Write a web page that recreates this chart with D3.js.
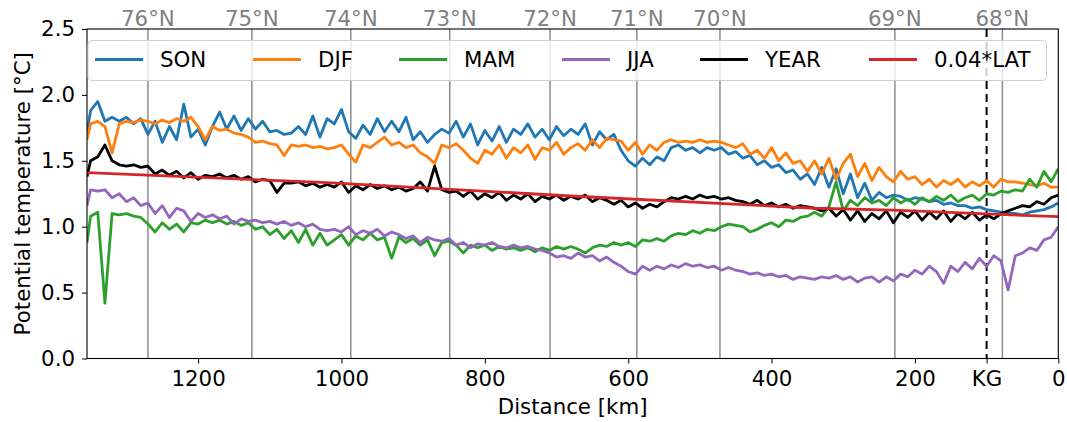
<!DOCTYPE html>
<html lang="en">
  <head>
    <meta charset="utf-8" />
    <title>Potential temperature along section</title>
    <style>
      html,
      body {
        margin: 0;
        padding: 0;
        background: #fff;
      }

      svg {
        display: block;
        font-family: 'DejaVu Sans', sans-serif;
      }
    </style>
    <script src="https://d3js.org/d3.v7.min.js"></script>
  </head>
  <body>
    <svg width="1067" height="422"></svg>

    <script>
      // distance along the section [km]
      var dist = [1355,
        1350, 1340, 1330, 1320, 1310, 1300, 1290, 1280, 1270, 1260,
        1250, 1240, 1230, 1220, 1210, 1200, 1190, 1180, 1170, 1160,
        1150, 1140, 1130, 1120, 1110, 1100, 1090, 1080, 1070, 1060,
        1050, 1040, 1030, 1020, 1010, 1000, 990, 980, 970, 960,
        950, 940, 930, 920, 910, 900, 890, 880, 870, 860,
        850, 840, 830, 820, 810, 800, 790, 780, 770, 760,
        750, 740, 730, 720, 710, 700, 690, 680, 670, 660,
        650, 640, 630, 620, 610, 600, 590, 580, 570, 560,
        550, 540, 530, 520, 510, 500, 490, 480, 470, 460,
        450, 440, 430, 420, 410, 400, 390, 380, 370, 360,
        350, 340, 330, 320, 310, 300, 290, 280, 270, 260,
        250, 240, 230, 220, 210, 200, 190, 180, 170, 160,
        150, 140, 130, 120, 110, 100, 90, 80, 70, 60,
        50, 40, 30, 20, 10, 0];

      var son = [1.72,
        1.88, 1.95, 1.80, 1.83, 1.80, 1.83, 1.78, 1.82, 1.70, 1.80,
        1.64, 1.76, 1.66, 1.93, 1.68, 1.74, 1.62, 1.76, 1.87, 1.74,
        1.84, 1.73, 1.82, 1.74, 1.80, 1.72, 1.73, 1.70, 1.71, 1.76,
        1.70, 1.84, 1.68, 1.82, 1.78, 1.89, 1.72, 1.67, 1.77, 1.70,
        1.82, 1.72, 1.80, 1.72, 1.83, 1.66, 1.72, 1.64, 1.70, 1.74,
        1.71, 1.80, 1.68, 1.78, 1.62, 1.73, 1.65, 1.76, 1.64, 1.74,
        1.70, 1.78, 1.68, 1.74, 1.66, 1.76, 1.69, 1.74, 1.70, 1.78,
        1.62, 1.72, 1.66, 1.70, 1.58, 1.50, 1.46, 1.52, 1.47, 1.53,
        1.50, 1.60, 1.62, 1.58, 1.60, 1.56, 1.60, 1.58, 1.60, 1.55,
        1.57, 1.52, 1.54, 1.47, 1.50, 1.45, 1.47, 1.41, 1.43, 1.36,
        1.40, 1.32, 1.45, 1.30, 1.44, 1.25, 1.40, 1.22, 1.33, 1.20,
        1.26, 1.22, 1.24, 1.23, 1.20, 1.22, 1.21, 1.19, 1.20, 1.17,
        1.18, 1.16, 1.16, 1.14, 1.15, 1.13, 1.12, 1.11, 1.10, 1.10,
        1.09, 1.11, 1.12, 1.13, 1.15, 1.18];

      var djf = [1.66,
        1.78, 1.80, 1.76, 1.56, 1.78, 1.80, 1.79, 1.81, 1.80, 1.78,
        1.81, 1.79, 1.82, 1.80, 1.83, 1.76, 1.66, 1.76, 1.73, 1.74,
        1.71, 1.70, 1.68, 1.64, 1.65, 1.63, 1.62, 1.54, 1.62, 1.61,
        1.62, 1.60, 1.61, 1.59, 1.60, 1.62, 1.55, 1.49, 1.62, 1.60,
        1.64, 1.68, 1.62, 1.64, 1.60, 1.62, 1.56, 1.53, 1.48, 1.62,
        1.60, 1.63, 1.58, 1.52, 1.48, 1.58, 1.55, 1.62, 1.52, 1.60,
        1.56, 1.62, 1.51, 1.60, 1.58, 1.64, 1.55, 1.60, 1.63, 1.58,
        1.66, 1.60, 1.67, 1.66, 1.65, 1.58, 1.64, 1.55, 1.62, 1.58,
        1.64, 1.66, 1.64, 1.65, 1.64, 1.66, 1.64, 1.65, 1.64, 1.62,
        1.60, 1.63, 1.55, 1.58, 1.52, 1.60, 1.50, 1.56, 1.48, 1.50,
        1.42, 1.50, 1.40, 1.52, 1.36, 1.48, 1.55, 1.38, 1.48, 1.35,
        1.45, 1.38, 1.34, 1.42, 1.36, 1.38, 1.32, 1.36, 1.30, 1.35,
        1.32, 1.36, 1.30, 1.34, 1.31, 1.35, 1.30, 1.36, 1.34, 1.34,
        1.33, 1.32, 1.31, 1.33, 1.30, 1.30];

      var mam = [0.88,
        1.08, 1.11, 0.42, 1.10, 1.09, 1.10, 1.08, 1.07, 1.02, 0.96,
        1.03, 0.98, 1.02, 0.96, 1.03, 1.02, 1.05, 1.03, 1.05, 1.02,
        1.04, 1.01, 1.03, 0.98, 1.00, 0.94, 0.98, 0.91, 0.97, 0.88,
        0.98, 0.86, 0.95, 0.86, 0.90, 0.94, 0.86, 0.93, 0.90, 0.95,
        0.90, 0.92, 0.76, 0.92, 0.88, 0.91, 0.86, 0.90, 0.78, 0.88,
        0.89, 0.86, 0.80, 0.86, 0.84, 0.86, 0.82, 0.85, 0.83, 0.84,
        0.82, 0.84, 0.81, 0.84, 0.82, 0.85, 0.83, 0.85, 0.83, 0.80,
        0.84, 0.86, 0.85, 0.88, 0.86, 0.88, 0.85, 0.90, 0.89, 0.91,
        0.89, 0.93, 0.95, 0.94, 0.97, 0.95, 0.98, 0.97, 1.00, 1.02,
        1.01, 1.00, 0.96, 0.98, 1.01, 1.03, 1.00, 1.05, 1.04, 1.07,
        1.08, 1.11, 1.08, 1.15, 1.34, 1.12, 1.20, 1.16, 1.22, 1.18,
        1.20, 1.16, 1.22, 1.18, 1.21, 1.17, 1.22, 1.19, 1.23, 1.20,
        1.24, 1.19, 1.22, 1.24, 1.20, 1.25, 1.24, 1.27, 1.26, 1.28,
        1.27, 1.36, 1.30, 1.42, 1.34, 1.44];

      var jja = [1.16,
        1.28, 1.27, 1.28, 1.22, 1.25, 1.19, 1.22, 1.16, 1.18, 1.10,
        1.16, 1.07, 1.14, 1.12, 1.04, 1.10, 1.07, 1.09, 1.06, 1.08,
        1.02, 1.06, 1.04, 1.05, 1.03, 1.04, 1.02, 1.04, 1.01, 1.03,
        1.00, 1.02, 0.98, 0.97, 0.98, 0.96, 1.00, 0.94, 0.97, 0.95,
        0.98, 0.93, 0.96, 0.94, 0.91, 0.93, 0.88, 0.92, 0.90, 0.89,
        0.91, 0.86, 0.88, 0.84, 0.87, 0.86, 0.88, 0.85, 0.84, 0.86,
        0.84, 0.85, 0.83, 0.82, 0.80, 0.77, 0.78, 0.76, 0.80, 0.77,
        0.78, 0.74, 0.77, 0.73, 0.70, 0.66, 0.64, 0.70, 0.67, 0.70,
        0.68, 0.71, 0.69, 0.72, 0.70, 0.71, 0.69, 0.70, 0.67, 0.69,
        0.67, 0.66, 0.64, 0.65, 0.63, 0.64, 0.62, 0.63, 0.60, 0.62,
        0.61, 0.60, 0.62, 0.61, 0.63, 0.60, 0.62, 0.58, 0.61, 0.62,
        0.58, 0.62, 0.59, 0.64, 0.62, 0.67, 0.64, 0.70, 0.66, 0.57,
        0.70, 0.66, 0.73, 0.68, 0.76, 0.70, 0.78, 0.74, 0.52, 0.78,
        0.80, 0.84, 0.82, 0.90, 0.92, 1.00];

      var year = [1.38,
        1.50, 1.53, 1.62, 1.50, 1.47, 1.46, 1.47, 1.45, 1.46, 1.40,
        1.43, 1.39, 1.42, 1.37, 1.41, 1.36, 1.39, 1.38, 1.40, 1.37,
        1.39, 1.36, 1.38, 1.34, 1.36, 1.35, 1.26, 1.33, 1.33, 1.34,
        1.31, 1.33, 1.30, 1.32, 1.30, 1.34, 1.26, 1.31, 1.28, 1.32,
        1.29, 1.31, 1.28, 1.30, 1.27, 1.29, 1.34, 1.27, 1.46, 1.28,
        1.26, 1.27, 1.23, 1.27, 1.21, 1.25, 1.22, 1.26, 1.20, 1.24,
        1.21, 1.25, 1.19, 1.23, 1.21, 1.24, 1.20, 1.23, 1.21, 1.24,
        1.19, 1.22, 1.20, 1.17, 1.20, 1.15, 1.18, 1.14, 1.17, 1.15,
        1.19, 1.22, 1.21, 1.23, 1.21, 1.24, 1.22, 1.23, 1.21, 1.22,
        1.20, 1.19, 1.17, 1.20, 1.16, 1.18, 1.15, 1.17, 1.14, 1.16,
        1.15, 1.14, 1.12, 1.14, 1.08, 1.13, 1.05, 1.12, 1.04, 1.10,
        1.06, 1.12, 1.03, 1.11, 1.07, 1.12, 1.05, 1.11, 1.06, 1.12,
        1.04, 1.10, 1.06, 1.11, 1.05, 1.09, 1.06, 1.10, 1.12, 1.14,
        1.16, 1.15, 1.19, 1.17, 1.22, 1.24];

      // the 0.04*LAT reference line
      var latDist = [1355, 1020, 680, 340, 230, 0];
      var latVals = [1.41, 1.335, 1.233, 1.14, 1.125, 1.076];

      // latitude marks along the section
      var latLabels = ['76°N', '75°N', '74°N', '73°N', '72°N', '71°N', '70°N', '69°N', '68°N'];
      var latKm = [1270, 1125, 987, 849, 709, 588, 472, 228, 78];

      var kgKm = 100;
      var xTicks = [1200, 1000, 800, 600, 400, 200, 100, 0];
      var yTicks = [0, 0.5, 1.0, 1.5, 2.0, 2.5];

      var names = ['SON', 'DJF', 'MAM', 'JJA', 'YEAR', '0.04*LAT'];
      var colors = ['#1f77b4', '#ff7f0e', '#2ca02c', '#9467bd', '#000000', '#d62728'];

      var series = [son, djf, mam, jja, year].map(function(vals, i) {
        return {
          name: names[i],
          color: colors[i],
          points: vals.map(function(v, j) { return [dist[j], v]; })
        };
      });
      series.push({
        name: names[5],
        color: colors[5],
        points: latVals.map(function(v, j) { return [latDist[j], v]; })
      });

      var svg = d3.select('svg'),
        fs = 21.33,
        lw = 2.8,
        plotL = 87, plotR = 1058.3, plotT = 29, plotB = 358.5;

      var x = d3.scaleLinear().domain([1355, 0]).range([plotL, plotR]);
      var y = d3.scaleLinear().domain([0, 2.5]).range([plotB, plotT]);

      svg.append('defs').append('clipPath').attr('id', 'clip')
        .append('rect')
        .attr('x', plotL).attr('y', plotT)
        .attr('width', plotR - plotL).attr('height', plotB - plotT);

      // latitude lines
      svg.append('g')
        .selectAll('line')
        .data(latKm)
        .enter().append('line')
        .attr('x1', function(d) { return x(d); })
        .attr('x2', function(d) { return x(d); })
        .attr('y1', plotT).attr('y2', plotB)
        .attr('stroke', '#8c8c8c')
        .attr('stroke-width', 1.5);

      svg.append('g')
        .selectAll('text')
        .data(latKm)
        .enter().append('text')
        .attr('x', function(d) { return x(d); })
        .attr('y', 26)
        .attr('text-anchor', 'middle')
        .attr('fill', '#808080')
        .style('font-size', fs + 'px')
        .text(function(d, i) { return latLabels[i]; });

      // KG marker
      svg.append('line')
        .attr('x1', x(kgKm)).attr('x2', x(kgKm))
        .attr('y1', plotT).attr('y2', plotB)
        .attr('stroke', '#000')
        .attr('stroke-width', 2)
        .attr('stroke-dasharray', '8,5');

      var line = d3.line()
        .x(function(d) { return x(d[0]); })
        .y(function(d) { return y(d[1]); });

      svg.append('g')
        .attr('clip-path', 'url(#clip)')
        .attr('fill', 'none')
        .attr('stroke-width', lw)
        .attr('stroke-linejoin', 'round')
        .selectAll('path')
        .data(series)
        .enter().append('path')
        .attr('stroke', function(d) { return d.color; })
        .attr('d', function(d) { return line(d.points); });

      // axes
      var xAxis = svg.append('g')
        .attr('transform', 'translate(0,' + plotB + ')')
        .call(d3.axisBottom(x).tickValues(xTicks).tickSize(5).tickPadding(7)
          .tickFormat(function(d) { return d === kgKm ? 'KG' : d; }));

      var yAxis = svg.append('g')
        .attr('transform', 'translate(' + plotL + ',0)')
        .call(d3.axisLeft(y).tickValues(yTicks).tickSize(5).tickPadding(7)
          .tickFormat(d3.format('.1f')));

      [xAxis, yAxis].forEach(function(a) {
        a.select('.domain').remove();
        a.selectAll('.tick line').attr('stroke', '#000').attr('stroke-width', 1);
        a.selectAll('.tick text')
          .attr('fill', '#000')
          .style('font-family', 'DejaVu Sans')
          .style('font-size', fs + 'px');
      });

      svg.append('rect')
        .attr('x', plotL).attr('y', plotT)
        .attr('width', plotR - plotL).attr('height', plotB - plotT)
        .attr('fill', 'none')
        .attr('stroke', '#000')
        .attr('stroke-width', 1.1);

      svg.append('text')
        .attr('x', (plotL + plotR) / 2)
        .attr('y', 414)
        .attr('text-anchor', 'middle')
        .style('font-size', fs + 'px')
        .text('Distance [km]');

      svg.append('text')
        .attr('transform', 'translate(30,' + (plotT + plotB) / 2 + ') rotate(-90)')
        .attr('text-anchor', 'middle')
        .style('font-size', fs + 'px')
        .text('Potential temperature [°C]');

      // legend, one column per series
      var legendX = [95, 253, 399, 562, 700, 869];
      var legend = svg.append('g');
      legend.append('rect')
        .attr('x', 88).attr('y', 40.5)
        .attr('width', 958.5).attr('height', 40)
        .attr('rx', 4)
        .attr('fill', '#fff')
        .attr('fill-opacity', 0.8)
        .attr('stroke', '#d0d0d0')
        .attr('stroke-width', 1);

      var ly = 59.5;
      series.forEach(function(s, i) {
        var lx = legendX[i];
        legend.append('line')
          .attr('x1', lx).attr('x2', lx + 48)
          .attr('y1', ly).attr('y2', ly)
          .attr('stroke', s.color)
          .attr('stroke-width', lw);
        legend.append('text')
          .attr('x', lx + 65)
          .attr('y', ly)
          .attr('dy', '0.36em')
          .style('font-size', fs + 'px')
          .text(s.name);
      });
    </script>
  </body>
</html>
